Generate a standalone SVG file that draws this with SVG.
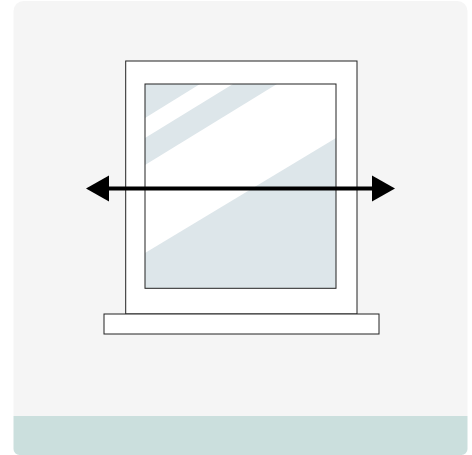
<svg xmlns="http://www.w3.org/2000/svg" width="472" height="455" viewBox="0 0 472 455">
<style>
.w{fill:#fff;stroke:#222;stroke-width:1}
.g{fill:#dde6ea}
</style>
<g id="panel">
<path d="M13.500 455V11A10 10 0 0 1 23.500 1H457.500A10 10 0 0 1 467.500 11V416H13.500Z" fill="#f5f5f5"/>
<path d="M13.500 416H467.500V449A6 6 0 0 1 461.500 455H19.500A6 6 0 0 1 13.500 449Z" fill="#cbdfdd"/>
</g>
<g id="window">
<rect class="w" x="125.700" y="61" width="231.300" height="253"/>
<rect x="145" y="84" width="191" height="204.300" fill="#fff"/>
<path class="g" d="M145 84H200L145 118Z"/>
<path class="g" d="M145 138L233 84H277L145 165Z"/>
<path class="g" d="M336 138V288.300H145V253Z"/>
<rect x="145" y="84" width="191" height="204.300" fill="none" stroke="#222" stroke-width="1"/>
<rect class="w" x="104" y="314" width="275" height="20"/>
</g>
<g id="connectors">
<path d="M105 188.500H376" fill="none" stroke="#000" stroke-width="4"/>
<path d="M86 188.500L109 175.500V201.500Z"/>
<path d="M395 188.500L372 175.500V201.500Z"/>
</g>
</svg>
